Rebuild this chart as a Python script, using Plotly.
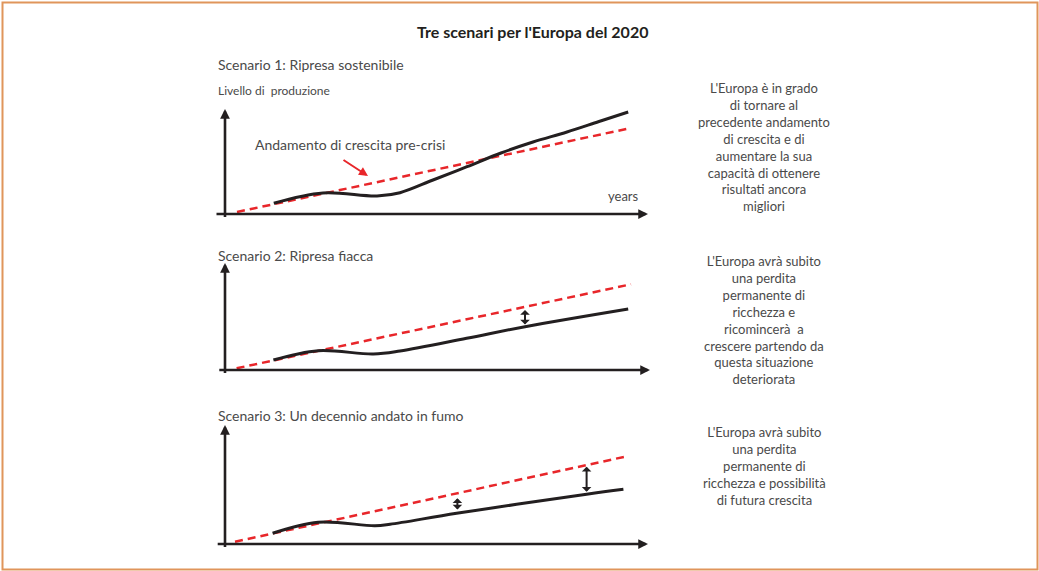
import plotly.graph_objects as go

W, H = 1039, 571

# Pre-crisis growth trend (red dashed) per scenario: years vs production level
trend1_x = [0.3, 10.15]
trend1_y = [0.2, 8.6]
trend2_x = [0.29, 10.15]
trend2_y = [0.17, 8.57]
trend3_x = [0.25, 10.0]
trend3_y = [0.23, 8.73]

# Actual output paths (black)
s1_x = [1.22, 2.45, 3.8, 4.375, 5.2, 6.05, 6.9, 7.7, 8.55, 9.35, 10.08]
s1_y = [1.08, 2.1, 1.8, 2.13, 3.4, 4.73, 6.1, 7.2, 8.2, 9.25, 10.2]
s2_x = [1.21, 2.33, 3.71, 4.375, 6.04, 7.5, 10.08]
s2_y = [1.0, 1.93, 1.6, 1.9, 3.17, 4.33, 6.1]
s3_x = [1.19, 2.33, 3.75, 4.125, 5.79, 9.04, 9.96]
s3_y = [1.07, 2.17, 1.83, 1.97, 3.07, 4.97, 5.47]

# Gap markers (double arrows): year, upper level, lower level
gap2 = [(7.5, 6.0, 4.4)]
gap3 = [(5.81, 4.57, 3.3), (9.04, 7.73, 5.07)]

titles = ["Scenario 1: Ripresa sostenibile",
          "Scenario 2: Ripresa fiacca",
          "Scenario 3: Un decennio andato in fumo"]
notes = [
    "L'Europa è in grado<br>di tornare al<br>precedente andamento<br>di crescita e di<br>"
    "aumentare la sua<br>capacità di ottenere<br>risultati ancora<br>migliori",
    "L'Europa avrà subito<br>una perdita<br>permanente di<br>ricchezza e<br>"
    "ricomincerà  a<br>crescere partendo da<br>questa situazione<br>deteriorata",
    "L'Europa avrà subito<br>una perdita<br>permanente di<br>ricchezza e possibilità<br>"
    "di futura crescita",
]

INK = "#231f20"
RED = "#e8262a"
GREY = "#4a4a4a"
FONT = "Lato"

# panel layout in pixels: origin row, band top, band bottom, y-arrow top (data units)
panels = [
    dict(oy=214, top=95, bottom=225, ytop=10.5, xstart=-0.25, xtip=10.575),
    dict(oy=370, top=250, bottom=380, ytop=10.7, xstart=-0.18, xtip=10.625),
    dict(oy=544, top=420, bottom=555, ytop=11.9, xstart=-0.22, xtip=10.575),
]
X0, XS, YS = 225, 40.0, 10.0  # axis origin column and pixel scales

fig = go.Figure()
layout = dict(
    width=W, height=H, margin=dict(l=0, r=0, t=0, b=0),
    paper_bgcolor="white", plot_bgcolor="rgba(0,0,0,0)",
    showlegend=False, font=dict(family=FONT, color=GREY),
)
annotations = []

series = [(trend1_x, trend1_y, s1_x, s1_y, []),
          (trend2_x, trend2_y, s2_x, s2_y, gap2),
          (trend3_x, trend3_y, s3_x, s3_y, gap3)]

for i, (p, (tx, ty, sx, sy, gaps)) in enumerate(zip(panels, series), start=1):
    sfx = "" if i == 1 else str(i)
    xr, yr = "x" + sfx, "y" + sfx
    layout["xaxis" + sfx] = dict(domain=[0, 1], range=[-X0 / XS, (W - X0) / XS],
                                 visible=False, anchor=yr)
    layout["yaxis" + sfx] = dict(domain=[1 - p["bottom"] / H, 1 - p["top"] / H],
                                 range=[(p["oy"] - p["bottom"]) / YS, (p["oy"] - p["top"]) / YS],
                                 visible=False, anchor=xr)
    fig.add_trace(go.Scatter(x=tx, y=ty, mode="lines", xaxis=xr, yaxis=yr,
                             line=dict(color=RED, width=2.5, dash="8px,5px")))
    fig.add_trace(go.Scatter(x=sx, y=sy, mode="lines", xaxis=xr, yaxis=yr,
                             line=dict(color=INK, width=3, shape="spline", smoothing=1.0)))
    # axes with arrow tips
    annotations.append(dict(x=p["xtip"], y=0, ax=p["xstart"], ay=0, xref=xr, yref=yr,
                            axref=xr, ayref=yr, text="", showarrow=True, arrowhead=2,
                            arrowsize=0.75, arrowwidth=2.6, arrowcolor=INK))
    annotations.append(dict(x=0, y=p["ytop"], ax=0, ay=-0.45, xref=xr, yref=yr,
                            axref=xr, ayref=yr, text="", showarrow=True, arrowhead=2,
                            arrowsize=0.75, arrowwidth=2.6, arrowcolor=INK))
    for gx, gtop, gbot in gaps:
        annotations.append(dict(x=gx, y=gtop, ax=gx, ay=gbot, xref=xr, yref=yr,
                                axref=xr, ayref=yr, text="", showarrow=True,
                                arrowhead=1, startarrowhead=1, arrowside="end+start",
                                arrowsize=0.8, startarrowsize=0.8, arrowwidth=2,
                                arrowcolor=INK))


def px(x, y):
    return x / W, 1 - y / H


def label(text, x, y, size, xanchor="left", bold=False, color=GREY):
    xp, yp = px(x, y)
    annotations.append(dict(x=xp, y=yp, xref="paper", yref="paper", text=text,
                            showarrow=False, xanchor=xanchor, yanchor="middle",
                            align="center" if xanchor == "center" else "left",
                            font=dict(family=FONT, size=size, color=color,
                                      weight="bold" if bold else "normal")))


label("Tre scenari per l'Europa del 2020", 532, 31, 16, xanchor="center", bold=True, color=INK)
label(titles[0], 216, 65, 14)
label("Livello di\u00a0 produzione", 216, 90, 12)
label("years", 606, 196, 13)
label("Andamento di crescita pre-crisi", 253, 144, 14)
label(titles[1], 216, 255, 14)
label(titles[2], 216, 415, 14)
label(notes[0], 764, 147, 13, xanchor="center")
label(notes[1], 764, 320, 13, xanchor="center")
label(notes[2], 764, 466, 13, xanchor="center")

# red pointer towards the trend line
annotations.append(dict(x=3.575, y=3.8, xref="x", yref="y", ax=-26, ay=-17,
                        text="", showarrow=True, arrowhead=2, arrowsize=0.9,
                        arrowwidth=2, arrowcolor=RED))

layout["annotations"] = annotations
layout["shapes"] = [dict(type="rect", xref="paper", yref="paper",
                         x0=2.5 / W, x1=1037.5 / W, y0=1 - 569.5 / H, y1=1 - 2.5 / H,
                         line=dict(color="#e0955b", width=2))]
fig.update_layout(**layout)
fig.write_html("out.html")
